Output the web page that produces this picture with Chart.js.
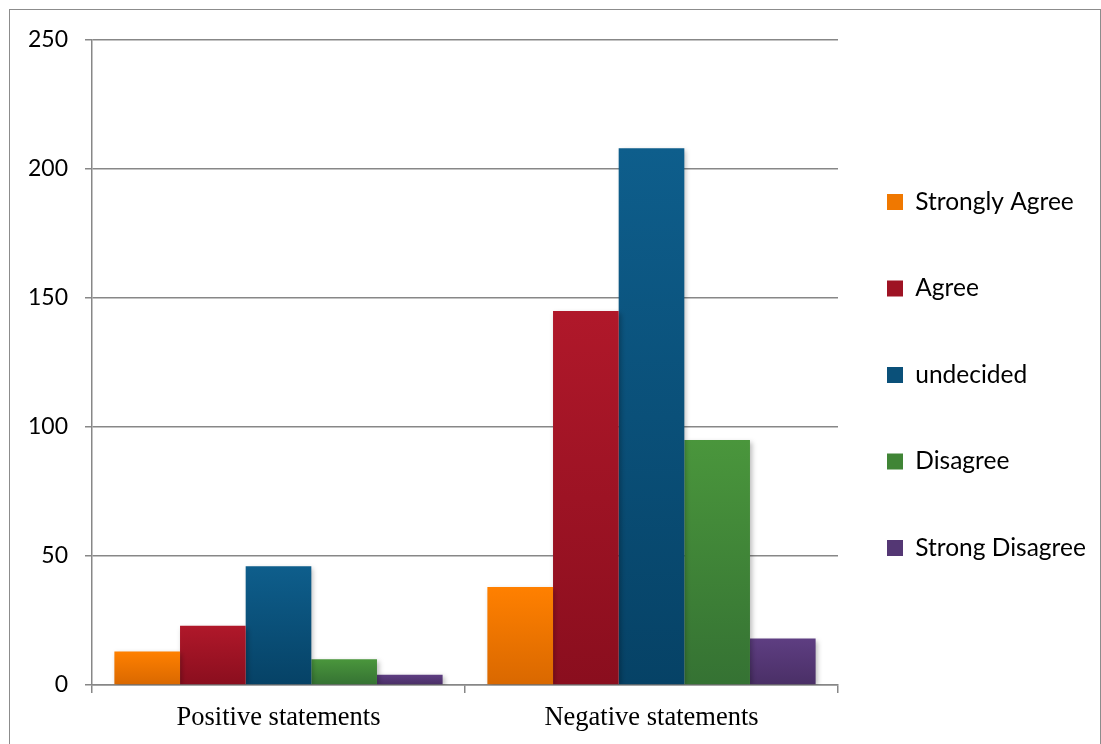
<!DOCTYPE html>
<html>
<head>
<meta charset="utf-8">
<script src="https://cdn.jsdelivr.net/npm/chart.js@4.4.1/dist/chart.umd.min.js"></script>
<style>
  html, body { margin: 0; padding: 0; background: #fff; overflow: hidden; }
  #wrap { position: relative; width: 1101px; height: 744px; }
  #frame {
    position: absolute; left: 9px; top: 9px; width: 1090px; height: 800px;
    border: 1.5px solid #8c8c8c; pointer-events: none;
  }
</style>
</head>
<body>
<div id="wrap">
  <canvas id="chart" width="1101" height="744"></canvas>
  <div id="frame"></div>
</div>
<script>
// categories and series
const categories = ['Positive statements', 'Negative statements'];
const seriesNames = ['Strongly Agree', 'Agree', 'undecided', 'Disagree', 'Strong Disagree'];
const stronglyAgree = [13, 38];
const agree = [23, 145];
const undecided = [46, 208];
const disagree = [10, 95];
const strongDisagree = [4, 18];
const yTicks = [0, 50, 100, 150, 200, 250];

// top / bottom colours of the bar gradients
const topColors = ['#ff8000', '#b0182a', '#0e5e8c', '#4a963c', '#5e3e82'];
const bottomColors = ['#d96800', '#8a0e1e', '#064266', '#357233', '#4a2f66'];
const legendColors = ['#f07800', '#9e1324', '#0a5079', '#408536', '#543774'];

const seriesValues = [stronglyAgree, agree, undecided, disagree, strongDisagree];

function barGradient(i) {
    return function(ctx) {
        const chart = ctx.chart;
        const y = chart.scales && chart.scales.y;
        if (!y || ctx.type !== 'data') return topColors[i];
        const top = y.getPixelForValue(ctx.parsed.y);
        const bottom = y.getPixelForValue(0);
        if (!isFinite(top) || !isFinite(bottom) || top === bottom) return topColors[i];
        const g = chart.ctx.createLinearGradient(0, top, 0, bottom);
        g.addColorStop(0, topColors[i]);
        g.addColorStop(1, bottomColors[i]);
        return g;
    };
}

const datasets = seriesNames.map((name, i) => ({
    label: name,
    data: seriesValues[i],
    backgroundColor: barGradient(i),
    borderWidth: 0,
    categoryPercentage: 0.88,
    barPercentage: 1.0
}));

// soft shadow behind the bars
const barShadow = {
    id: 'barShadow',
    beforeDatasetsDraw(chart) {
        const c = chart.ctx;
        c.save();
        c.shadowColor = 'rgba(0,0,0,0.28)';
        c.shadowBlur = 5;
        c.shadowOffsetX = 2;
        c.shadowOffsetY = 2;
    },
    afterDatasetsDraw(chart) {
        chart.ctx.restore();
    }
};

// fixed legend size and position, like the original
const legendPlace = {
    id: 'legendPlace',
    afterInit(chart) {
        const lg = chart.legend;
        const fit = lg.fit.bind(lg);
        lg.fit = function() {
            fit();
            this.width = 263;
        };
    },
    beforeDraw(chart) {
        const lg = chart.legend;
        lg.left -= 13; lg.right -= 13;
        lg.top -= 17; lg.bottom -= 17;
    }
};

const gridGray = '#878787';

new Chart(document.getElementById('chart'), {
    type: 'bar',
    data: { labels: categories, datasets: datasets },
    plugins: [barShadow, legendPlace],
    options: {
        responsive: false,
        animation: false,
        layout: { padding: { top: 40, right: 0, bottom: 0, left: 0 } },
        plugins: {
            tooltip: { enabled: false },
            legend: {
                position: 'right',
                labels: {
                    font: { family: 'Lato', size: 24.5 },
                    color: '#000',
                    boxWidth: 16,
                    boxHeight: 16,
                    padding: 62,
                    generateLabels(chart) {
                        const items = Chart.defaults.plugins.legend.labels.generateLabels(chart);
                        items.forEach((it, i) => {
                            it.fillStyle = legendColors[i];
                            it.strokeStyle = legendColors[i];
                            it.lineWidth = 0;
                        });
                        return items;
                    }
                }
            }
        },
        scales: {
            x: {
                grid: {
                    drawOnChartArea: false,
                    color: gridGray,
                    lineWidth: 1.5,
                    tickLength: 8
                },
                border: { color: gridGray, width: 1.5 },
                ticks: {
                    font: { family: 'Liberation Serif', size: 26.5 },
                    color: '#000',
                    padding: 9
                },
                afterFit(scale) { scale.height = 59; }
            },
            y: {
                min: 0,
                max: 250,
                afterBuildTicks(scale) {
                    scale.ticks = yTicks.map(v => ({ value: v }));
                },
                grid: {
                    color: gridGray,
                    lineWidth: 1.5,
                    tickLength: 7
                },
                border: { color: gridGray, width: 1.5 },
                ticks: {
                    font: { family: 'Lato', size: 23 },
                    color: '#000',
                    padding: 17
                },
                afterFit(scale) { scale.width = 92; }
            }
        }
    }
});
</script>
</body>
</html>
